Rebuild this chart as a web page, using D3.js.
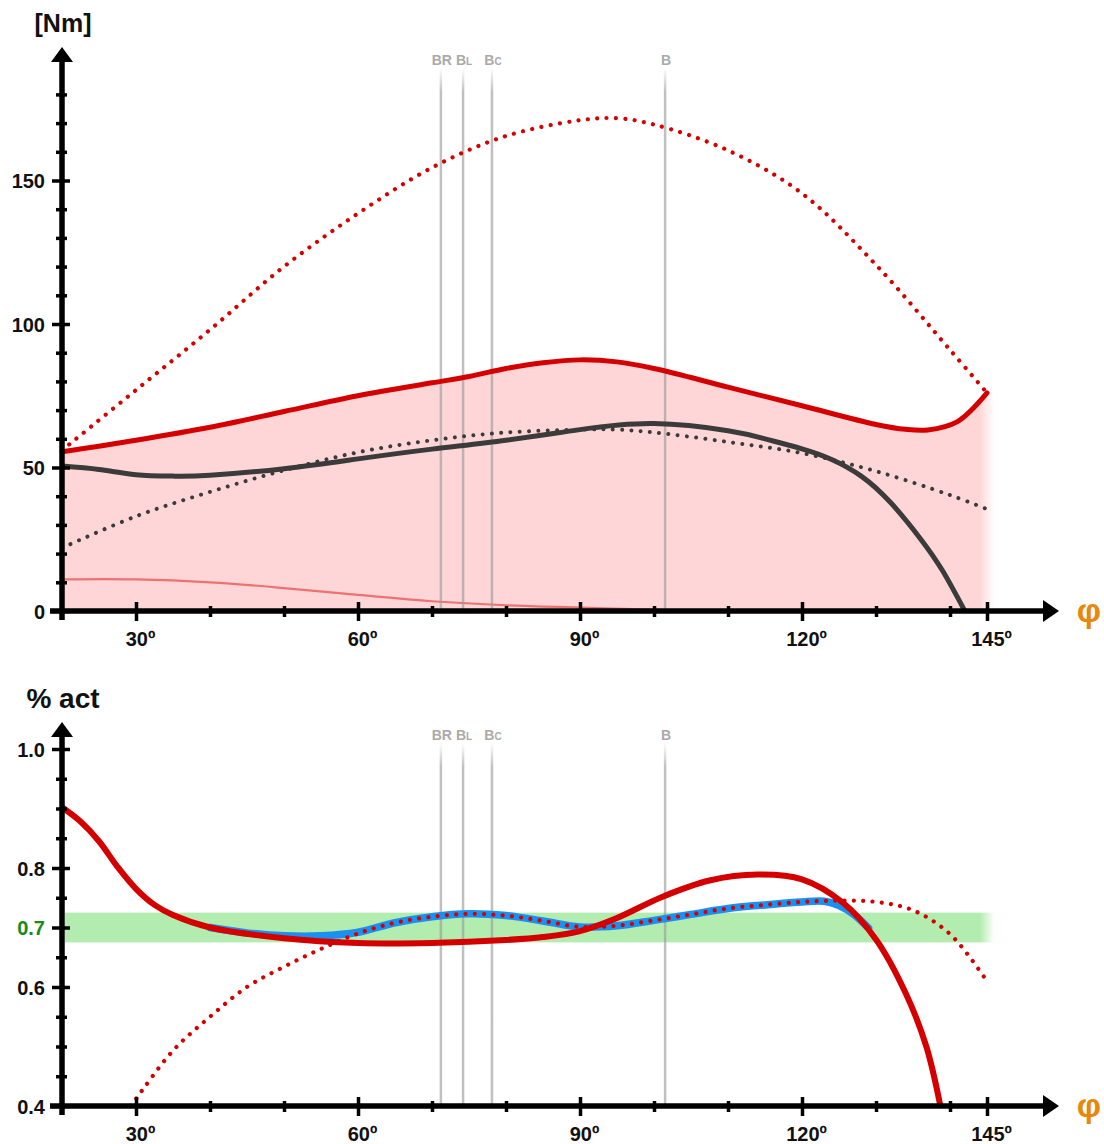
<!DOCTYPE html>
<html>
<head>
<meta charset="utf-8">
<script src="https://cdn.jsdelivr.net/npm/d3@7"></script>
<style>
  body { margin: 0; background: #fff; }
  svg { display: block; font-family: "Liberation Sans", Arial, Helvetica, sans-serif; font-weight: bold; }
</style>
</head>
<body>
<div id="chart"></div>
<script>
// joint angle (deg) of the reference lines and their labels [main, small]
const refAngles = [71.2, 74.2, 78.1, 101.5];
const refLabels = [["BR", ""], ["B", "L"], ["B", "C"], ["B", ""]];

// ---- top panel: torque [Nm], pairs of [angle, value]
const torqueMax = [[20,55.5],[30,59.5],[40,64],[50,69.5],[60,75],[70,79.5],[75,81.7],[80,84.5],[85,86.5],[90,87.5],[95,86.8],[100,84.5],[110,78],[120,71.5],[130,65],[134,63.3],[137,63.1],[141,66],[145,76]];
const torqueMaxDotted = [[20,56],[30,77],[40,98],[50,120],[60,138.5],[70,154.5],[80,165.5],[90,171],[95,171.7],[100,169.5],[110,160.5],[120,145.5],[130,120.6],[140,91],[145,76]];
const torqueActive = [[20,50.5],[25,49.3],[30,47.5],[35,47],[40,47.3],[50,49.6],[60,53],[70,56.4],[80,59.5],[90,63.2],[100,65.3],[110,62.8],[115,60],[120,56.5],[124,52.8],[128,47],[132,37.7],[136,25.2],[139,14],[142,0]];
const torqueDotted = [[20,22],[30,33],[40,41.5],[50,49],[60,55.3],[70,59.5],[80,62.2],[90,63.2],[95,63.2],[100,62.2],[110,58.9],[120,55],[130,48.7],[140,40.4],[145,35.5]];
const torquePassive = [[20,11],[30,11],[40,10],[50,8],[60,5.6],[70,3.4],[80,2],[90,1.2],[101,0.4]];

// ---- bottom panel: % activation
const actMax = [[20,0.902],[22.5,0.878],[25,0.845],[27.5,0.802],[30,0.765],[32.5,0.738],[35,0.721],[40,0.700],[50,0.682],[60,0.674],[70,0.674],[80,0.679],[85,0.684],[90,0.694],[95,0.716],[101,0.751],[107.5,0.779],[114,0.789],[120,0.781],[125.5,0.742],[130,0.680],[134,0.590],[136.8,0.500],[138.7,0.4]];
const actBlue = [[40,0.700],[45,0.691],[50,0.686],[55,0.686],[60,0.692],[65,0.708],[70,0.718],[75,0.723],[80,0.720],[85,0.711],[90,0.701],[95,0.703],[100,0.712],[105,0.722],[110,0.732],[115,0.738],[120,0.743],[123,0.744],[125,0.737],[127,0.722],[129,0.699]];
const actDotted = [[29.3,0.4],[30,0.412],[35,0.493],[40,0.55],[45,0.6],[50,0.634],[55,0.664],[60,0.69],[65,0.708],[70,0.718],[75,0.723],[80,0.720],[85,0.711],[90,0.701],[95,0.703],[100,0.712],[105,0.722],[110,0.732],[115,0.738],[120,0.743],[125,0.745],[130,0.743],[135,0.729],[140,0.689],[144.6,0.617]];
const actBand = [0.675, 0.725];

// ticks
const xMajor = [30, 60, 90, 120, 145];
const xMinor = [40, 50, 70, 80, 100, 110, 130, 140];
const topYMajor = [0, 50, 100, 150];
const topYMinor = [10, 20, 30, 40, 60, 70, 80, 90, 110, 120, 130, 140, 160, 170, 180];
const botYMajor = [0.4, 0.6, 0.7, 0.8, 1.0];
const botYMinor = [0.45, 0.5, 0.55, 0.65, 0.75, 0.85, 0.9, 0.95];

const RED = "#d40000", PINK = "#ffd6d7", DARK = "#3b3b3b", LIGHTRED = "#ee7272";
const BLUE = "#1a90f0", GREEN = "#b2ecae", GREENTXT = "#178a17", ORANGE = "#e8870a";

const width = 1104, height = 1144;
const svg = d3.select("#chart").append("svg").attr("width", width).attr("height", height);
const defs = svg.append("defs");

const x = d3.scaleLinear().domain([20, 145]).range([62, 987]);
const yTop = d3.scaleLinear().domain([0, 150]).range([611, 180.5]);
const yBot = d3.scaleLinear().domain([0.4, 1.0]).range([1106, 749]);

function hFade(id, color) {
    const g = defs.append("linearGradient").attr("id", id)
        .attr("gradientUnits", "userSpaceOnUse")
        .attr("x1", x(144)).attr("x2", x(146)).attr("y1", 0).attr("y2", 0);
    g.append("stop").attr("offset", 0).attr("stop-color", color).attr("stop-opacity", 1);
    g.append("stop").attr("offset", 1).attr("stop-color", color).attr("stop-opacity", 0);
}
function vFade(id, y1, y2) {
    const g = defs.append("linearGradient").attr("id", id)
        .attr("gradientUnits", "userSpaceOnUse")
        .attr("x1", 0).attr("x2", 0).attr("y1", y1).attr("y2", y2);
    g.append("stop").attr("offset", 0).attr("stop-color", "#999").attr("stop-opacity", 0);
    g.append("stop").attr("offset", 1).attr("stop-color", "#999").attr("stop-opacity", 0.62);
}
hFade("pinkFade", PINK);
hFade("greenFade", GREEN);
vFade("refTop", 68, 92);
vFade("refBot", 743, 767);

const line = (y, curve) => d3.line().x(d => x(d[0])).y(d => y(d[1])).curve(curve || d3.curveCatmullRom.alpha(0.5));

function refLines(y0, yAxis, grad) {
    const g = svg.append("g");
    g.selectAll("line").data(refAngles).enter().append("line")
        .attr("x1", d => x(d)).attr("x2", d => x(d))
        .attr("y1", y0 + 3).attr("y2", yAxis)
        .attr("stroke", `url(#${grad})`).attr("stroke-width", 2.5);
    const t = g.selectAll("text").data(refAngles).enter().append("text")
        .attr("x", d => x(d) + 1).attr("y", y0)
        .attr("text-anchor", "middle")
        .attr("fill", "#aaa").style("font-size", "14px");
    t.append("tspan").text((d, i) => refLabels[i][0]);
    t.append("tspan").style("font-size", "10px").text((d, i) => refLabels[i][1]);
}

function axes(y, yAxisPos, yMajor, yMinor, fmt, arrowTop, title, titleY, titleSize) {
    const g = svg.append("g");
    // y axis major / minor ticks (crossing ticks)
    const ya = g.append("g").attr("transform", `translate(62,0)`)
        .call(d3.axisLeft(y).tickValues(yMajor).tickSize(9).tickFormat(fmt));
    ya.select(".domain").remove();
    ya.selectAll(".tick line").attr("x2", -10).attr("x1", 8).attr("stroke", "#000").attr("stroke-width", 3.5);
    ya.selectAll(".tick text").attr("x", -17).attr("dy", "0.36em")
        .style("font-size", "20px").style("font-family", "inherit").style("font-weight", "bold")
        .attr("fill", d => d === 0.7 ? GREENTXT : "#111");
    const ym = g.append("g").attr("transform", `translate(62,0)`)
        .call(d3.axisLeft(y).tickValues(yMinor).tickSize(6).tickFormat(""));
    ym.select(".domain").remove();
    ym.selectAll(".tick line").attr("x1", 5).attr("x2", -6).attr("stroke", "#000").attr("stroke-width", 3.5);

    // x axis
    const xa = g.append("g").attr("transform", `translate(0,${yAxisPos})`)
        .call(d3.axisBottom(x).tickValues(xMajor).tickSize(9).tickFormat(d => d + "º"));
    xa.select(".domain").remove();
    xa.selectAll(".tick line").attr("y1", -9).attr("y2", 10).attr("stroke", "#000").attr("stroke-width", 3.5);
    xa.selectAll(".tick text").attr("y", 35).attr("dy", 0).attr("x", 4)
        .style("font-size", "20px").style("font-family", "inherit").style("font-weight", "bold").attr("fill", "#111");
    const xm = g.append("g").attr("transform", `translate(0,${yAxisPos})`)
        .call(d3.axisBottom(x).tickValues(xMinor).tickSize(6).tickFormat(""));
    xm.select(".domain").remove();
    xm.selectAll(".tick line").attr("y1", -5).attr("y2", 6).attr("stroke", "#000").attr("stroke-width", 3.5);

    // axis lines with arrows
    g.append("line").attr("x1", 62).attr("x2", 62).attr("y1", yAxisPos + 9).attr("y2", arrowTop + 12)
        .attr("stroke", "#000").attr("stroke-width", 5.5);
    g.append("path").attr("d", `M51,${arrowTop + 15}L73,${arrowTop + 15}L62,${arrowTop}Z`).attr("fill", "#000");
    g.append("line").attr("x1", 50).attr("x2", 1046).attr("y1", yAxisPos).attr("y2", yAxisPos)
        .attr("stroke", "#000").attr("stroke-width", 5.5);
    g.append("path").attr("d", `M1043,${yAxisPos - 11}L1043,${yAxisPos + 11}L1059,${yAxisPos}Z`).attr("fill", "#000");

    g.append("text").attr("x", 1089).attr("y", yAxisPos + 11).attr("text-anchor", "middle")
        .attr("fill", ORANGE).style("font-size", "34px").text("φ");
    g.append("text").attr("x", 63).attr("y", titleY).attr("text-anchor", "middle")
        .attr("fill", "#111").style("font-size", titleSize + "px").text(title);
}

// ================= top panel =================
const areaData = torqueMax.concat([[146.5, torqueMax[torqueMax.length - 1][1]]]);
svg.append("path").datum(areaData)
    .attr("d", d3.area().x(d => x(d[0])).y0(yTop(0)).y1(d => yTop(d[1])).curve(d3.curveCatmullRom.alpha(0.5)))
    .attr("fill", "url(#pinkFade)");
svg.append("path").datum(torquePassive).attr("d", line(yTop))
    .attr("fill", "none").attr("stroke", LIGHTRED).attr("stroke-width", 2.2);
refLines(65, 611, "refTop");
svg.append("path").datum(torqueMaxDotted).attr("d", line(yTop))
    .attr("fill", "none").attr("stroke", RED).attr("stroke-width", 4.2)
    .attr("stroke-linecap", "round").attr("stroke-dasharray", "0.01 9.4");
svg.append("path").datum(torqueMax).attr("d", line(yTop))
    .attr("fill", "none").attr("stroke", RED).attr("stroke-width", 5).attr("stroke-linecap", "round");
svg.append("path").datum(torqueActive).attr("d", line(yTop, d3.curveNatural))
    .attr("fill", "none").attr("stroke", DARK).attr("stroke-width", 5);
svg.append("path").datum(torqueDotted).attr("d", line(yTop))
    .attr("fill", "none").attr("stroke", DARK).attr("stroke-width", 4)
    .attr("stroke-linecap", "round").attr("stroke-dasharray", "0.01 9.3");
axes(yTop, 611, topYMajor, topYMinor, d3.format("d"), 47, "[Nm]", 32, 25);

// ================= bottom panel =================
svg.append("rect")
    .attr("x", x(20) + 3).attr("width", x(146.5) - x(20) - 3)
    .attr("y", yBot(actBand[1])).attr("height", yBot(actBand[0]) - yBot(actBand[1]))
    .attr("fill", "url(#greenFade)");
refLines(740, 1106, "refBot");
svg.append("path").datum(actBlue).attr("d", line(yBot))
    .attr("fill", "none").attr("stroke", BLUE).attr("stroke-width", 7.5).attr("stroke-linecap", "round");
svg.append("path").datum(actDotted).attr("d", line(yBot))
    .attr("fill", "none").attr("stroke", RED).attr("stroke-width", 4.2)
    .attr("stroke-linecap", "round").attr("stroke-dasharray", "0.01 9.3");
svg.append("path").datum(actMax).attr("d", line(yBot))
    .attr("fill", "none").attr("stroke", RED).attr("stroke-width", 6);
axes(yBot, 1106, botYMajor, botYMinor, d3.format(".1f"), 722, "% act", 708, 28);
</script>
</body>
</html>
